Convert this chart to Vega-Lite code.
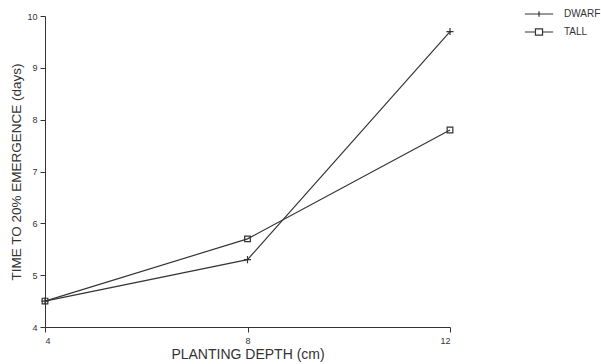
{
  "$schema": "https://vega.github.io/schema/vega-lite/v6.json",
  "width": 405,
  "height": 311,
  "autosize": {"type": "none"},
  "padding": {"left": 45, "top": 16, "right": 151, "bottom": 37},
  "background": "white",
  "config": {"view": {"stroke": null}, "font": "Liberation Sans"},
  "data": {"values": [
    {"depth": 4, "days": 4.5, "type": "DWARF"},
    {"depth": 8, "days": 5.3, "type": "DWARF"},
    {"depth": 12, "days": 9.7, "type": "DWARF"},
    {"depth": 4, "days": 4.5, "type": "TALL"},
    {"depth": 8, "days": 5.7, "type": "TALL"},
    {"depth": 12, "days": 7.8, "type": "TALL"}
  ]},
  "encoding": {
    "x": {"field": "depth", "type": "quantitative",
      "scale": {"domain": [4, 12], "nice": false, "zero": false},
      "axis": {"values": [4, 8, 12], "grid": false, "title": "PLANTING DEPTH (cm)",
        "domainColor": "#333", "tickColor": "#333", "tickSize": 5,
        "labelFontSize": 9, "labelColor": "#333", "labelPadding": 4,
        "titleFontSize": 14, "titleFontWeight": "normal", "titleColor": "#333", "titlePadding": 2}},
    "y": {"field": "days", "type": "quantitative",
      "scale": {"domain": [4, 10], "nice": false, "zero": false},
      "axis": {"values": [4, 5, 6, 7, 8, 9, 10], "grid": false, "title": "TIME TO 20% EMERGENCE (days)",
        "domainColor": "#333", "tickColor": "#333", "tickSize": 5,
        "labelFontSize": 9, "labelColor": "#333", "labelPadding": 3,
        "titleFontSize": 13.5, "titleFontWeight": "normal", "titleColor": "#333", "titlePadding": 3}}
  },
  "resolve": {"scale": {"shape": "independent"}},
  "layer": [
    {
      "mark": {"type": "line", "strokeWidth": 1.2, "color": "#383338"},
      "encoding": {
        "detail": {"field": "type"}
      }
    },
    {
      "mark": {"type": "point", "filled": false, "strokeWidth": 1.2, "opacity": 1},
      "encoding": {
        "shape": {"field": "type", "type": "nominal",
          "scale": {"domain": ["DWARF", "TALL"], "range": ["M-1,0H1M0,-1V1", "M-0.8,-0.8H0.8V0.8H-0.8Z"]},
          "legend": null},
        "size": {"value": 50},
        "color": {"value": "#333"}
      }
    },
    {
      "transform": [{"filter": "false"}],
      "mark": {"type": "point", "filled": false, "strokeWidth": 1.2, "opacity": 1},
      "encoding": {
        "shape": {"field": "type", "type": "nominal",
          "scale": {"domain": ["DWARF", "TALL"], "range": ["M-4,0H4M0,-0.8V0.8", "M-4,0H-1M1,0H4M-1,-0.9H1V0.9H-1Z"]},
          "legend": {
            "title": null, "orient": "none", "legendX": 489, "legendY": -7,
            "symbolSize": 50, "symbolStrokeColor": "#333", "symbolStrokeWidth": 1.2,
            "labelFontSize": 10, "labelColor": "#333", "labelOffset": 20, "rowPadding": 6
          }},
        "color": {"value": "#333"}
      }
    }
  ]
}
